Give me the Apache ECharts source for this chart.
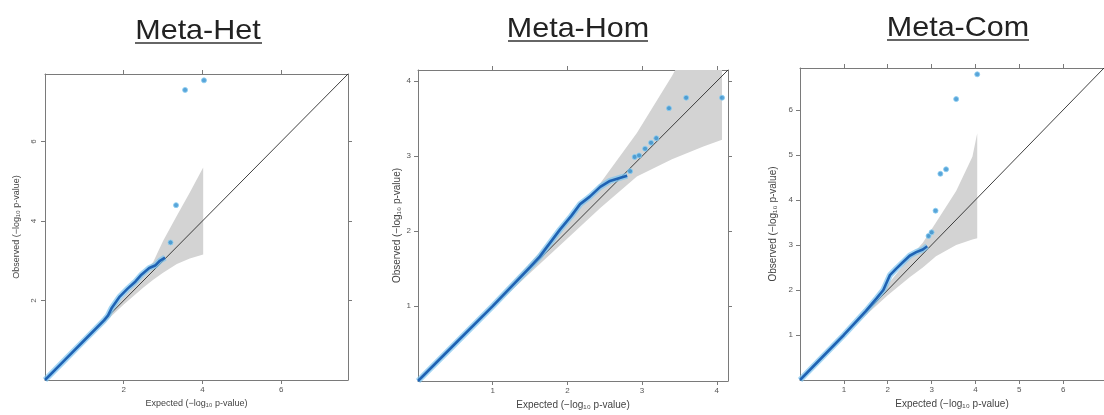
<!DOCTYPE html>
<html>
<head>
<meta charset="utf-8">
<title>Meta QQ plots</title>
<script src="https://cdn.jsdelivr.net/npm/echarts@6/dist/echarts.min.js"></script>
<style>
  html, body { margin: 0; padding: 0; background: #fff; }
  #main { width: 1104px; height: 415px; }
</style>
</head>
<body>
<div id="main"></div>
<script>
// ---- data ----
const panelTitles = ['Meta-Het', 'Meta-Hom', 'Meta-Com'];

// Meta-Het
const hetCurveX = [0, 0.5, 1, 1.5, 1.6, 1.7, 1.9, 2.1, 2.3, 2.45, 2.65, 2.8, 2.92, 3.05];
const hetCurveY = [0, 0.5, 1, 1.5, 1.62, 1.82, 2.1, 2.3, 2.48, 2.65, 2.82, 2.88, 3.0, 3.08];
const hetPointX = [3.19, 3.33, 3.56, 4.04];
const hetPointY = [3.46, 4.4, 7.3, 7.54];
const hetBandX = [0, 1, 2, 2.5, 2.75, 3.0, 3.35, 3.68, 4.02];
const hetBandLo = [0, 0.97, 1.9, 2.33, 2.52, 2.7, 2.92, 3.06, 3.16];
const hetBandHi = [0, 1.03, 2.1, 2.68, 2.97, 3.5, 4.13, 4.72, 5.35];
const hetTicks = [2, 4, 6];
const hetMax = 7.7;

// Meta-Hom
const homCurveX = [0, 0.5, 1, 1.5, 1.63, 1.9, 2.05, 2.17, 2.3, 2.44, 2.57, 2.7, 2.8];
const homCurveY = [0, 0.5, 1, 1.52, 1.66, 2.02, 2.2, 2.36, 2.46, 2.59, 2.67, 2.71, 2.74];
const homPointX = [2.84, 2.9, 2.96, 3.04, 3.12, 3.19, 3.36, 3.59, 4.07];
const homPointY = [2.8, 2.99, 3.01, 3.1, 3.18, 3.24, 3.64, 3.78, 3.78];
const homBandX = [0, 1, 1.5, 2, 2.44, 2.93, 3.4, 3.82, 4.07];
const homBandLo = [0, 0.97, 1.44, 1.9, 2.31, 2.73, 2.96, 3.13, 3.22];
const homBandHi = [0, 1.03, 1.57, 2.13, 2.64, 3.31, 4.07, 4.85, 5.35];
const homTicks = [1, 2, 3, 4];
const homMax = 4.15;

// Meta-Com
const comCurveX = [0, 0.5, 1, 1.5, 1.75, 1.9, 2.05, 2.2, 2.35, 2.5, 2.65, 2.8, 2.9];
const comCurveY = [0, 0.5, 1, 1.53, 1.82, 2.0, 2.33, 2.48, 2.62, 2.76, 2.84, 2.9, 2.97];
const comPointX = [2.93, 3.0, 3.09, 3.2, 3.33, 3.56, 4.04];
const comPointY = [3.2, 3.28, 3.76, 4.58, 4.68, 6.24, 6.79];
const comBandX = [0, 1, 1.5, 2, 2.5, 2.8, 3.1, 3.56, 3.93, 4.04];
const comBandLo = [0, 0.97, 1.44, 1.88, 2.28, 2.5, 2.75, 3.0, 3.12, 3.15];
const comBandHi = [0, 1.03, 1.57, 2.12, 2.72, 3.05, 3.5, 4.2, 4.96, 5.48];
const comTicks = [1, 2, 3, 4, 5, 6];
const comMax = 6.93;

// ---- layout ----
const panels = [
  { curveX: hetCurveX, curveY: hetCurveY, ptX: hetPointX, ptY: hetPointY,
    bandX: hetBandX, bandLo: hetBandLo, bandHi: hetBandHi, ticks: hetTicks, max: hetMax,
    grid: { left: 45, top: 74, width: 303, height: 306 },
    titleX: 198, titleY: 31, ulX: [135, 262], ulY: 43,
    nameSize: 9, yLabelRotate: 90, xNameGap: 17, yNameGap: 24 },
  { curveX: homCurveX, curveY: homCurveY, ptX: homPointX, ptY: homPointY,
    bandX: homBandX, bandLo: homBandLo, bandHi: homBandHi, ticks: homTicks, max: homMax,
    grid: { left: 418, top: 70, width: 310, height: 311 },
    titleX: 578, titleY: 29, ulX: [508, 648], ulY: 41,
    nameSize: 10, yLabelRotate: 0, xNameGap: 10, yNameGap: 15 },
  { curveX: comCurveX, curveY: comCurveY, ptX: comPointX, ptY: comPointY,
    bandX: comBandX, bandLo: comBandLo, bandHi: comBandHi, ticks: comTicks, max: comMax,
    grid: { left: 800, top: 68, width: 312, height: 312 },
    titleX: 958, titleY: 28, ulX: [887, 1029], ulY: 40,
    nameSize: 10, yLabelRotate: 0, xNameGap: 14, yNameGap: 22 }
];

const font = 'Liberation Sans, Arial, sans-serif';
const frameColor = '#7a7a7a';

function zip(xs, ys) {
  return xs.map(function (x, i) { return [x, ys[i]]; });
}

const grids = [], xAxes = [], yAxes = [], series = [], graphics = [];

panels.forEach(function (p, k) {
  grids.push(p.grid);

  // underlined panel heading
  graphics.push({
    type: 'text', x: p.titleX, y: p.titleY, scaleX: 1.09, originX: 0, originY: 0,
    style: { text: panelTitles[k], font: '28px ' + font, fill: '#222',
      textAlign: 'center', textVerticalAlign: 'middle' }
  });
  graphics.push({
    type: 'line', shape: { x1: p.ulX[0], y1: p.ulY, x2: p.ulX[1], y2: p.ulY },
    style: { stroke: '#333', lineWidth: 1.5 }
  });

  const base = {
    type: 'value', gridIndex: k, min: 0, max: p.max,
    splitLine: { show: false },
    axisLine: { show: true, onZero: false, lineStyle: { color: frameColor, width: 1 } },
    axisTick: { show: true, inside: false, length: 4, customValues: p.ticks,
      lineStyle: { color: frameColor } },
    axisLabel: { show: true, customValues: p.ticks, fontSize: 8, color: '#555', fontFamily: font }
  };

  xAxes.push(Object.assign({}, base, {
    position: 'bottom',
    name: 'Expected (−log₁₀ p-value)', nameLocation: 'middle', nameGap: p.xNameGap,
    nameTextStyle: { fontSize: p.nameSize, color: '#444', fontFamily: font },
    axisLabel: Object.assign({}, base.axisLabel, { margin: 6 })
  }));
  xAxes.push(Object.assign({}, base, { position: 'top', axisLabel: { show: false } }));

  yAxes.push(Object.assign({}, base, {
    position: 'left',
    name: 'Observed (−log₁₀ p-value)', nameLocation: 'middle', nameGap: p.yNameGap,
    nameTextStyle: { fontSize: p.nameSize, color: '#444', fontFamily: font },
    axisLabel: Object.assign({}, base.axisLabel, { margin: 7, rotate: p.yLabelRotate })
  }));
  yAxes.push(Object.assign({}, base, { position: 'right', axisLabel: { show: false } }));

  const xi = k * 2, yi = k * 2;

  // confidence band
  series.push({
    type: 'custom', xAxisIndex: xi, yAxisIndex: yi, clip: true, z: 1, silent: true,
    data: [[0, 0]],
    renderItem: function (params, api) {
      const pts = [];
      for (let i = 0; i < p.bandX.length; i++) pts.push(api.coord([p.bandX[i], p.bandHi[i]]));
      for (let i = p.bandX.length - 1; i >= 0; i--) pts.push(api.coord([p.bandX[i], p.bandLo[i]]));
      return { type: 'polygon', shape: { points: pts }, style: { fill: '#d3d3d3' } };
    }
  });

  // expected diagonal
  series.push({
    type: 'line', xAxisIndex: xi, yAxisIndex: yi, z: 3, symbol: 'none', clip: true,
    data: [[0, 0], [p.max, p.max]],
    lineStyle: { color: '#2a2a2a', width: 0.9 }
  });

  // observed curve, light halo + dark core
  series.push({
    type: 'line', xAxisIndex: xi, yAxisIndex: yi, z: 4, symbol: 'none',
    data: zip(p.curveX, p.curveY),
    lineStyle: { color: '#7cc3ee', width: 6, opacity: 0.7 }
  });
  series.push({
    type: 'line', xAxisIndex: xi, yAxisIndex: yi, z: 5, symbol: 'none',
    data: zip(p.curveX, p.curveY),
    lineStyle: { color: '#1f63b4', width: 2.6 }
  });

  // top points
  series.push({
    type: 'scatter', xAxisIndex: xi, yAxisIndex: yi, z: 6, symbolSize: 5,
    data: zip(p.ptX, p.ptY),
    itemStyle: { color: '#2f8fcf', borderColor: '#8fd0f2', borderWidth: 1 }
  });
});

const chart = echarts.init(document.getElementById('main'), null, { renderer: 'canvas' });
chart.setOption({
  animation: false,
  backgroundColor: '#fff',
  grid: grids,
  xAxis: xAxes,
  yAxis: yAxes,
  series: series,
  graphic: graphics
});
</script>
</body>
</html>
